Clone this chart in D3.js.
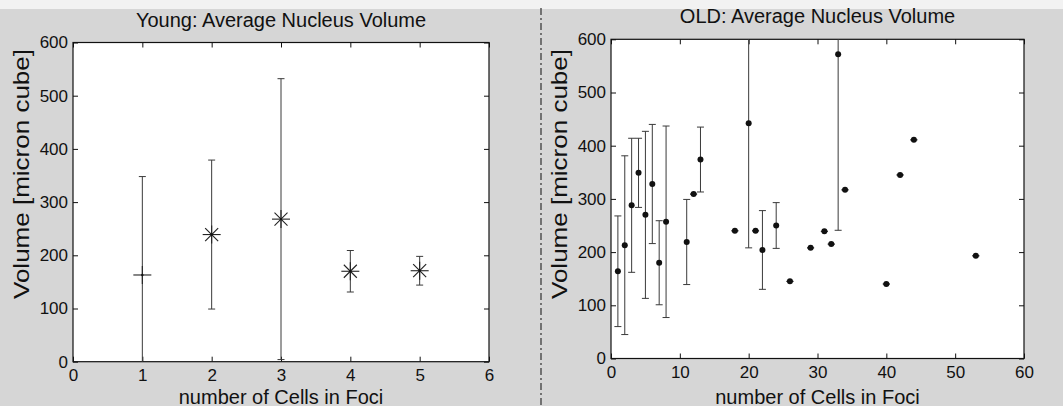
<!DOCTYPE html>
<html>
<head>
<meta charset="utf-8">
<script src="https://cdn.jsdelivr.net/npm/d3@7/dist/d3.min.js"></script>
<style>
  html, body { margin: 0; padding: 0; background: #d6d6d6; }
  svg { display: block; }
  text { font-family: "Liberation Sans", Arial, sans-serif; fill: #111; }
</style>
</head>
<body>
<svg id="chart" width="1063" height="406"></svg>
<script>
// Young cells: mean nucleus volume (+/- std) per number of cells in a focus
const youngX = [1, 2, 3, 4, 5];
const youngMean = [163, 239, 268, 170, 171];
const youngErr = [185, 140, 264, 39, 27];
const youngMarker = ["+", "*", "*", "*", "*"];

// Old cells
const oldX = [1, 2, 3, 4, 5, 6, 7, 8, 11, 12, 13, 18, 20, 21, 22, 24, 26, 29, 31, 32, 33, 34, 40, 42, 44, 53];
const oldMean = [164, 213, 288, 349, 270, 328, 180, 257, 219, 309, 374, 240, 442, 240, 204, 250, 145, 208, 239, 215, 572, 317, 140, 345, 411, 193];
const oldErr = [104, 168, 126, 65, 157, 112, 79, 180, 80, 0, 61, 0, 234, 0, 74, 43, 0, 0, 0, 0, 331, 0, 0, 0, 0, 0];

// Tick labels
const yTicks = [0, 100, 200, 300, 400, 500, 600];
const youngXTicks = [0, 1, 2, 3, 4, 5, 6];
const oldXTicks = [0, 10, 20, 30, 40, 50, 60];

const titles = ["Young: Average Nucleus Volume", "OLD: Average Nucleus Volume"];
const xLabel = "number of Cells in Foci";
const yLabel = "Volume [micron cube]";

const svg = d3.select("#chart");
const W = 1063, H = 406;

// page background
svg.append("rect").attr("width", W).attr("height", H).attr("fill", "#d6d6d6");
svg.append("rect").attr("width", W).attr("height", 9).attr("fill", "#f2f2f2");

// dash-dot divider between the two panels
svg.append("line")
  .attr("x1", 541).attr("x2", 541).attr("y1", 8).attr("y2", H)
  .attr("stroke", "#3c3c3c").attr("stroke-width", 1.3)
  .attr("stroke-dasharray", "7,3,2,3");

function panel(id, box, xDomain, xTicks, title, xs, means, errs, markers) {
  const x = d3.scaleLinear().domain(xDomain).range([box.left, box.right]);
  const y = d3.scaleLinear().domain([0, 600]).range([box.bottom, box.top]);
  const g = svg.append("g");

  // white plotting area
  g.append("rect")
    .attr("x", box.left).attr("y", box.top)
    .attr("width", box.right - box.left).attr("height", box.bottom - box.top)
    .attr("fill", "#ffffff");

  const clipId = "clip-" + id;
  svg.append("clipPath").attr("id", clipId)
    .append("rect")
    .attr("x", box.left).attr("y", box.top)
    .attr("width", box.right - box.left).attr("height", box.bottom - box.top);

  // axes with inward ticks on all four sides
  const fmt = d3.format("d");
  const styleAxis = sel => {
    sel.select(".domain").remove();
    sel.selectAll(".tick line").attr("stroke", "#111");
    sel.selectAll(".tick text")
      .attr("font-family", "Liberation Sans, Arial, sans-serif")
      .attr("font-size", 17).attr("fill", "#111");
  };
  g.append("g").attr("transform", `translate(0,${box.bottom})`)
    .call(d3.axisBottom(x).tickValues(xTicks).tickFormat(fmt).tickSizeInner(-5).tickSizeOuter(0).tickPadding(7))
    .call(styleAxis);
  g.append("g").attr("transform", `translate(0,${box.top})`)
    .call(d3.axisTop(x).tickValues(xTicks).tickSizeInner(-5).tickSizeOuter(0).tickFormat(""))
    .call(styleAxis);
  g.append("g").attr("transform", `translate(${box.left},0)`)
    .call(d3.axisLeft(y).tickValues(yTicks).tickFormat(fmt).tickSizeInner(-5).tickSizeOuter(0).tickPadding(5))
    .call(styleAxis);
  g.append("g").attr("transform", `translate(${box.right},0)`)
    .call(d3.axisRight(y).tickValues(yTicks).tickSizeInner(-5).tickSizeOuter(0).tickFormat(""))
    .call(styleAxis);

  // frame
  g.append("rect")
    .attr("x", box.left).attr("y", box.top)
    .attr("width", box.right - box.left).attr("height", box.bottom - box.top)
    .attr("fill", "none").attr("stroke", "#111").attr("stroke-width", 1.2);

  // error bars
  const data = xs.map((v, i) => ({ x: v, m: means[i], e: errs[i], mk: markers ? markers[i] : "." }));
  const eb = g.append("g").attr("clip-path", `url(#${clipId})`)
    .attr("stroke", "#3a3a3a").attr("stroke-width", 1).attr("fill", "none");
  const cap = 3.5;
  data.forEach(d => {
    const cx = x(d.x), y0 = y(d.m - d.e), y1 = y(d.m + d.e);
    eb.append("line").attr("x1", cx).attr("x2", cx).attr("y1", y0).attr("y2", y1);
    eb.append("line").attr("x1", cx - cap).attr("x2", cx + cap).attr("y1", y0).attr("y2", y0);
    eb.append("line").attr("x1", cx - cap).attr("x2", cx + cap).attr("y1", y1).attr("y2", y1);
  });

  // markers
  const mg = g.append("g").attr("stroke", "#222").attr("stroke-width", 1.1);
  data.forEach(d => {
    const cx = x(d.x), cy = y(d.m);
    if (d.mk === ".") {
      mg.append("circle").attr("cx", cx).attr("cy", cy).attr("r", 3)
        .attr("fill", "#111").attr("stroke", "none");
    } else {
      const r = 9, q = 6.5;
      mg.append("line").attr("x1", cx - r).attr("x2", cx + r).attr("y1", cy).attr("y2", cy);
      mg.append("line").attr("x1", cx).attr("x2", cx).attr("y1", cy - r).attr("y2", cy + r);
      if (d.mk === "*") {
        mg.append("line").attr("x1", cx - q).attr("x2", cx + q).attr("y1", cy - q).attr("y2", cy + q);
        mg.append("line").attr("x1", cx - q).attr("x2", cx + q).attr("y1", cy + q).attr("y2", cy - q);
      }
      mg.append("circle").attr("cx", cx).attr("cy", cy).attr("r", 1.2).attr("fill", "#111").attr("stroke", "none");
    }
  });

  // title and axis labels
  const cxMid = (box.left + box.right) / 2;
  g.append("text").attr("x", cxMid).attr("y", box.top - 16)
    .attr("text-anchor", "middle").attr("font-size", 20).text(title);
  g.append("text").attr("x", cxMid).attr("y", 403.5)
    .attr("text-anchor", "middle").attr("font-size", 20).text(xLabel);
  g.append("text")
    .attr("transform", `translate(${box.left - 44},174) rotate(-90)`)
    .attr("text-anchor", "middle").attr("font-size", 22)
    .attr("textLength", 250).attr("lengthAdjust", "spacingAndGlyphs")
    .text(yLabel);
}

panel("young", { left: 73, right: 489, top: 42.5, bottom: 361.7 }, [0, 6], youngXTicks,
  titles[0], youngX, youngMean, youngErr, youngMarker);
panel("old", { left: 611, right: 1024, top: 39.3, bottom: 358.5 }, [0, 60], oldXTicks,
  titles[1], oldX, oldMean, oldErr, null);
</script>
</body>
</html>
